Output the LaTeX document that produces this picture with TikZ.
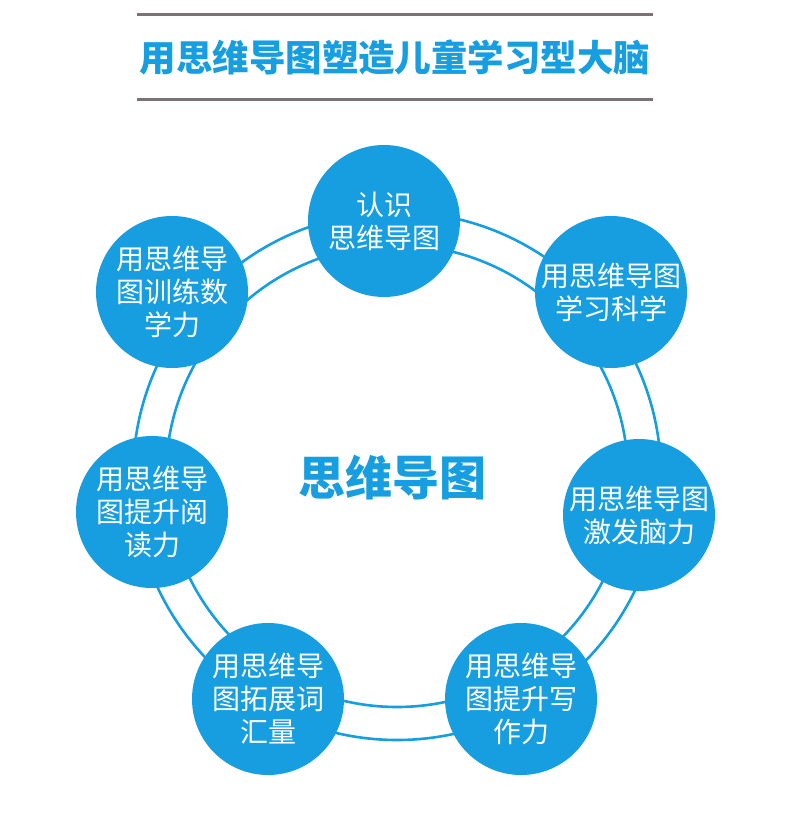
\documentclass[tikz,border=0pt]{standalone}
\usepackage{fontspec}
\newfontfamily\cjk{Noto Sans CJK SC}
\usepackage{xcolor}
\usepackage{tikz}
\usetikzlibrary{positioning}

\definecolor{skyblue}{RGB}{22,158,224}
\definecolor{rulegray}{RGB}{122,114,116}

\begin{document}
\begin{tikzpicture}[
  x=1pt, y=-1pt,
  bub/.style={circle, fill=skyblue, text=white, minimum size=152pt, inner sep=0pt,
              align=center, font=\cjk\fontsize{28}{33}\selectfont},
  ring/.style={draw=skyblue, line width=2.6pt},
  rule/.style={draw=rulegray, line width=3pt}
]
\useasboundingbox (0,0) rectangle (800,831);

% ─── Title between two gray rules ───
\draw[rule] (137,14) -- (653,14);
\draw[rule] (137,99) -- (653,99);
\node[font=\cjk\bfseries\fontsize{36.5}{40}\selectfont, text=skyblue] (title)
     at (395,57) {用思维导图塑造儿童学习型大脑};

% ─── Double ring (behind the bubbles) ───
\coordinate (mid) at (397,476);
\draw[ring] (mid) circle[radius=264];
\draw[ring] (mid) circle[radius=231];

% ─── Hub text ───
\node[font=\cjk\bfseries\fontsize{47}{50}\selectfont, text=skyblue] (hub)
     at (392,478) {思维导图};

% ─── Bubbles, clockwise from top ───
\node[bub] (know)  at (384,221) {认识\\思维导图};
\node[bub] (sci)   at (611,292) {用思维导图\\学习科学};
\node[bub] (brain) at (639,515) {用思维导图\\激发脑力};
\node[bub] (write) at (521,699) {用思维导\\图提升写\\作力};
\node[bub] (vocab) at (268,699) {用思维导\\图拓展词\\汇量};
\node[bub] (read)  at (152,512) {用思维导\\图提升阅\\读力};
\node[bub] (math)  at (172,292) {用思维导\\图训练数\\学力};

\end{tikzpicture}
\end{document}
